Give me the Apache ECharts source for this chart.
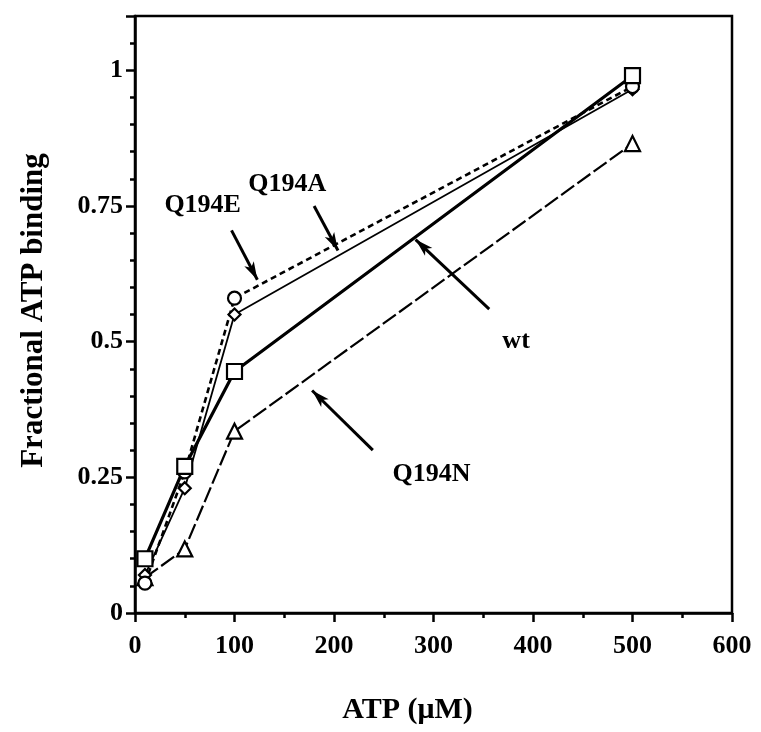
<!DOCTYPE html>
<html>
<head>
<meta charset="utf-8">
<script src="https://cdn.jsdelivr.net/npm/echarts@6/dist/echarts.min.js"></script>
<style>html,body{margin:0;padding:0;background:#fff;}#c{width:761px;height:732px;}</style>
</head>
<body>
<div id="c"></div>
<script>
// ---- data ----
const atp = [10, 50, 100, 500];
const wt = [0.10, 0.27, 0.445, 0.99];
const q194A = [0.07, 0.23, 0.55, 0.965];
const q194E = [0.055, 0.26, 0.58, 0.97];
const q194N = [0.065, 0.118, 0.335, 0.865];
const xTicks = [0, 100, 200, 300, 400, 500, 600];
const yTicks = [0, 0.25, 0.5, 0.75, 1];
const noteText = ['Q194A', 'Q194E', 'wt', 'Q194N'];
const notePos = [[153, 0.79], [68, 0.752], [383, 0.5], [298, 0.255]];
const arrowFrom = [[180, 0.75], [97, 0.705], [356, 0.56], [239, 0.30]];
const arrowTo = [[204, 0.668], [123, 0.614], [282, 0.688], [178, 0.41]];

const pairs = ys => atp.map((x, i) => [x, ys[i]]);
const FONT = 'Liberation Serif';
const txt = {fontFamily: FONT, fontWeight: 'bold', color: '#000', fontSize: 26};

const chart = echarts.init(document.getElementById('c'), null, {renderer: 'canvas'});
const mk = (name, ys, symbol, size, line) => ({
  name, type: 'line', data: pairs(ys), symbol, symbolSize: size,
  itemStyle: {color: '#fff', borderColor: '#000', borderWidth: 2.2},
  lineStyle: Object.assign({color: '#000'}, line), z: 3
});

chart.setOption({
  animation: false,
  backgroundColor: '#fff',
  grid: {left: 135, right: 29, top: 16, bottom: 119, show: true, borderColor: '#000', borderWidth: 2.5},
  xAxis: {
    type: 'value', min: 0, max: 600, interval: 100,
    axisLine: {onZero: false, lineStyle: {color: '#000', width: 2.5}},
    axisTick: {length: 9, lineStyle: {color: '#000', width: 2.5}},
    minorTick: {show: true, splitNumber: 2, length: 5, lineStyle: {color: '#000', width: 2.5}},
    splitLine: {show: false},
    axisLabel: Object.assign({margin: 20, formatter: v => xTicks.includes(v) ? String(v) : ''}, txt),
    name: 'ATP (\u03bcM)', nameLocation: 'middle', nameGap: 82,
    nameTextStyle: Object.assign({}, txt, {fontSize: 30, padding: [0, 52, 0, 0]})
  },
  yAxis: {
    type: 'value', min: 0, max: 1.1, interval: 0.25,
    axisLine: {onZero: false, lineStyle: {color: '#000', width: 2.5}},
    axisTick: {length: 9, lineStyle: {color: '#000', width: 2.5}},
    minorTick: {show: true, splitNumber: 5, length: 5, lineStyle: {color: '#000', width: 2.5}},
    splitLine: {show: false},
    axisLabel: Object.assign({margin: 12, showMaxLabel: false, formatter: v => yTicks.includes(v) ? String(v) : ''}, txt),
    name: 'Fractional ATP binding', nameLocation: 'middle', nameGap: 86,
    nameTextStyle: Object.assign({}, txt, {fontSize: 31, padding: [0, 0, 0, 8]})
  },
  series: [
    mk('Q194N', q194N, 'triangle', 15, {width: 2.2, type: [16, 4]}),
    mk('Q194A', q194A, 'diamond', 12, {width: 1.8}),
    mk('Q194E', q194E, 'circle', 13, {width: 2.6, type: [6, 4]}),
    mk('wt', wt, 'rect', 15, {width: 3.2}),
    {
      name: 'notes', type: 'scatter', data: [], z: 5,
      markPoint: {
        symbol: 'rect', symbolSize: 1, itemStyle: {color: 'rgba(0,0,0,0)'},
        label: Object.assign({show: true, position: 'inside', formatter: p => p.name}, txt),
        data: noteText.map((t, i) => ({name: t, coord: notePos[i]}))
      },
      markLine: {
        silent: true, symbol: ['none', 'arrow'], symbolSize: [8, 18],
        lineStyle: {color: '#000', width: 3, type: 'solid'},
        itemStyle: {color: '#000'},
        label: {show: false},
        data: arrowFrom.map((f, i) => [{coord: f}, {coord: arrowTo[i]}])
      }
    }
  ]
});
</script>
</body>
</html>
